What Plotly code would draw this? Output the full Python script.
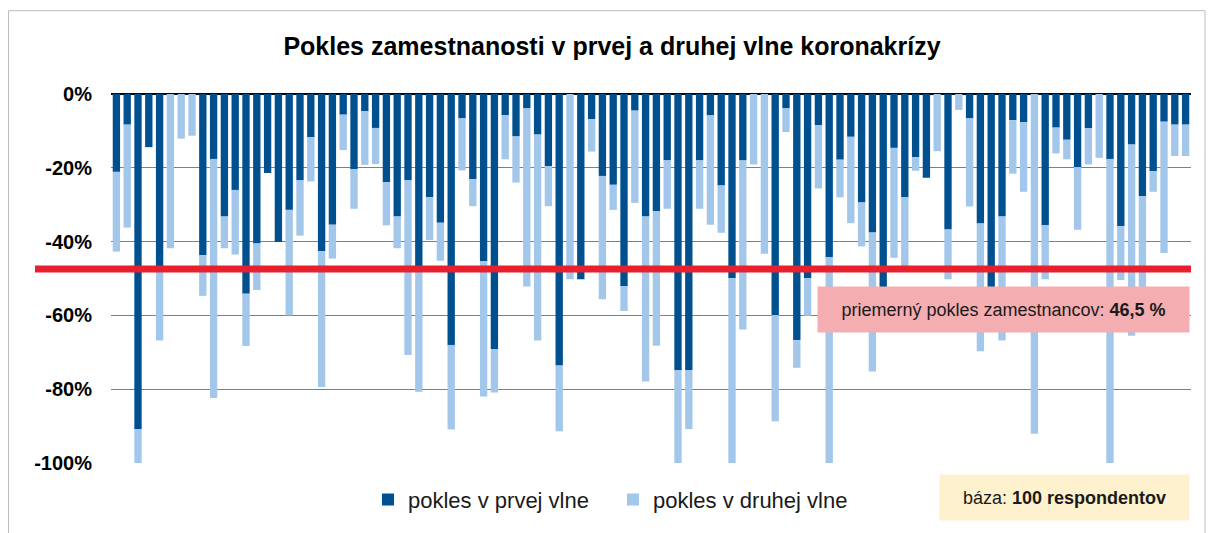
import plotly.graph_objects as go

respondents = [str(i) for i in range(1, 101)]

first_wave = [
    21.1, 8.3, 90.8, 14.4, 47.5, 0.0, 0.0, 0.0, 43.7, 17.6,
    33.2, 26.0, 54.1, 40.5, 21.4, 40.1, 31.4, 23.4, 11.7, 42.6,
    35.4, 5.6, 20.4, 4.7, 9.2, 23.9, 33.2, 23.4, 47.5, 28.0,
    34.9, 68.0, 6.6, 23.1, 45.3, 69.1, 5.7, 11.5, 3.9, 11.0,
    19.6, 73.6, 0.0, 50.2, 6.8, 22.2, 24.6, 52.1, 4.5, 33.2,
    31.7, 18.0, 74.8, 74.8, 18.0, 5.8, 24.8, 49.9, 18.0, 0.0,
    0.0, 59.9, 3.9, 66.7, 49.9, 8.4, 44.2, 17.8, 11.6, 29.4,
    37.5, 54.0, 14.6, 28.0, 17.1, 22.7, 0.0, 36.7, 0.0, 6.6,
    35.1, 54.0, 33.2, 7.1, 7.6, 0.0, 35.5, 9.1, 12.4, 19.8,
    9.3, 0.0, 17.6, 35.8, 13.7, 27.7, 20.9, 7.5, 8.3, 8.3,
]

second_wave = [
    21.6, 27.9, 9.2, 0.0, 19.3, 41.8, 12.1, 11.3, 11.0, 64.8,
    8.6, 17.5, 14.2, 12.6, 0.0, 0.0, 28.6, 15.0, 12.0, 36.8,
    9.2, 9.6, 10.7, 14.5, 9.8, 11.7, 8.6, 47.3, 33.2, 11.6,
    10.3, 22.9, 14.1, 7.3, 36.7, 11.8, 12.0, 12.5, 48.3, 55.8,
    10.8, 17.8, 50.2, 0.0, 8.8, 33.4, 6.8, 6.7, 25.0, 44.7,
    36.5, 13.1, 25.2, 16.0, 13.1, 29.6, 12.8, 50.1, 45.8, 19.1,
    43.3, 28.8, 6.4, 7.5, 10.2, 17.2, 55.8, 10.2, 23.4, 11.9,
    37.7, 0.0, 29.8, 19.0, 3.7, 0.0, 15.5, 13.5, 4.3, 23.9,
    34.6, 0.0, 33.6, 14.5, 18.9, 92.1, 14.7, 7.0, 5.3, 17.0,
    9.8, 17.3, 82.4, 14.6, 51.8, 29.3, 5.6, 35.6, 8.5, 8.5,
]

tick_values = [0, -20, -40, -60, -80, -100]
tick_labels = ["0%", "-20%", "-40%", "-60%", "-80%", "-100%"]

average_line = -47.4
average_label = "46,5 %"

series_names = ["pokles v prvej vlne", "pokles v druhej vlne"]
title_text = "Pokles zamestnanosti v prvej a druhej vlne koronakrízy"
base_text = "báza: <b>100 respondentov</b>"

DARK = "#00508F"
LIGHT = "#A2C7EA"
FONT = "Liberation Sans, Arial, sans-serif"

# the page has an 8px body margin; work in page pixels and convert
OFF = 8
W, H = 1214 - OFF, 533 - OFF
PL, PR, PT, PB = 111, 1191, 94, 466  # plot area in page pixels

fig = go.Figure()
fig.add_trace(go.Bar(
    x=respondents, y=[-v for v in first_wave], name=series_names[0],
    marker=dict(color=DARK, line=dict(width=0)),
))
fig.add_trace(go.Bar(
    x=respondents, y=[-v for v in second_wave], name=series_names[1],
    marker=dict(color=LIGHT, line=dict(width=0)),
))


def px_x(p):
    return (p - PL) / float(PR - PL)


def px_y(p):
    return (PB - p) / float(PB - PT)


shapes = [
    dict(type="rect", xref="paper", yref="paper",
         x0=px_x(8.5), x1=px_x(1205), y0=px_y(545), y1=px_y(10),
         line=dict(color="#BDBDBD", width=1), fillcolor="rgba(0,0,0,0)", layer="below"),
    dict(type="line", xref="paper", yref="y",
         x0=px_x(35), x1=1.0, y0=average_line, y1=average_line,
         line=dict(color="#E8202D", width=7), layer="above"),
]

annotations = [
    dict(xref="paper", yref="paper", x=px_x(1003.5), y=px_y(311.5),
         xanchor="center", yanchor="middle",
         text="priemerný pokles zamestnancov: <b>" + average_label + "</b>",
         showarrow=False, bgcolor="#F4ADB0", width=371, height=45, borderpad=0,
         font=dict(family=FONT, size=18, color="#1a1a1a")),
    dict(xref="paper", yref="paper", x=px_x(1064.5), y=px_y(500.5),
         xanchor="center", yanchor="middle",
         text=base_text,
         showarrow=False, bgcolor="#FEF1CD", width=249, height=45, borderpad=0,
         font=dict(family=FONT, size=18, color="#1a1a1a")),
]

fig.update_layout(
    width=W, height=H,
    margin=dict(l=PL - OFF, r=W - (PR - OFF), t=PT - OFF, b=H - (PB - OFF)),
    paper_bgcolor="white", plot_bgcolor="white",
    barmode="relative", bargap=0.32,
    title=dict(text="<b>" + title_text + "</b>", x=(612 - OFF) / W, xanchor="center",
               y=1 - (46 - OFF) / H, yanchor="middle",
               font=dict(family=FONT, size=25, color="black")),
    font=dict(family=FONT, color="black"),
    showlegend=True,
    legend=dict(orientation="h", x=px_x(368), y=px_y(503), xanchor="left", yanchor="middle",
                font=dict(family=FONT, size=22, color="#1a1a1a"),
                entrywidth=200, entrywidthmode="pixels",
                bgcolor="rgba(0,0,0,0)", traceorder="normal"),
    shapes=shapes,
    annotations=annotations,
    xaxis=dict(type="category", showticklabels=False, showgrid=False, zeroline=False,
               showline=False, ticks="", range=[-0.5, 99.5], fixedrange=True),
    yaxis=dict(range=[-100, 0], tickvals=tick_values,
               ticktext=["<b>" + t + "</b>" for t in tick_labels],
               showgrid=True, gridcolor="#7F7F7F", gridwidth=1,
               zeroline=True, zerolinecolor="#000000", zerolinewidth=1.5,
               showline=False, ticks="", ticklabelstandoff=18,
               tickfont=dict(family=FONT, size=20, color="black")),
)

fig.write_html("out.html")
